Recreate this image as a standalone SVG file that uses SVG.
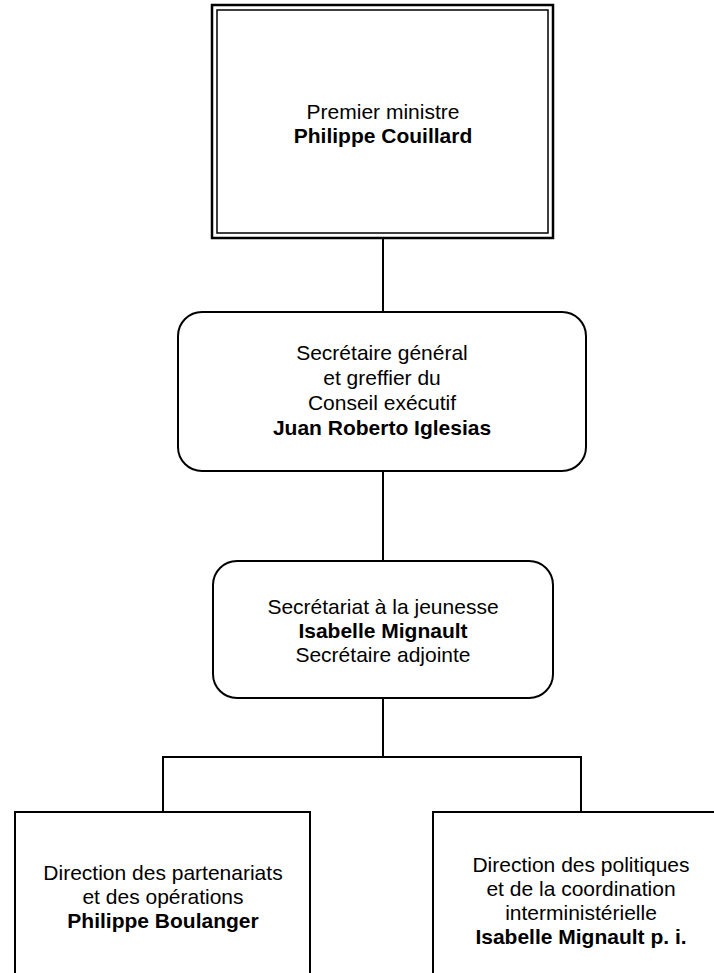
<svg xmlns="http://www.w3.org/2000/svg" width="714" height="973" viewBox="0 0 714 973">
<style>
.t{font-family:"Liberation Sans",Arial,sans-serif;font-size:21px;fill:#000;text-anchor:middle}
.b{font-weight:bold}
.box{fill:#fff;stroke:#000;stroke-width:2}
.conn{fill:none;stroke:#000;stroke-width:2}
</style>
<rect width="714" height="973" fill="#fff"/>
<g id="connectors">
<line class="conn" x1="383" y1="238" x2="383" y2="312"/>
<line class="conn" x1="383" y1="471" x2="383" y2="561"/>
<polyline class="conn" points="383,698 383,757"/>
<polyline class="conn" points="163,812 163,757 581,757 581,812"/>
</g>
<g id="premier-ministre">
<rect x="212" y="5" width="341" height="233" fill="#fff" stroke="#000" stroke-width="2.5"/>
<rect x="217" y="10" width="331" height="223" fill="none" stroke="#000" stroke-width="1.5"/>
<text class="t" x="383" y="119">Premier ministre</text>
<text class="t b" x="383" y="143">Philippe Couillard</text>
</g>
<g id="secretaire-general">
<rect class="box" x="178" y="312" width="408" height="159" rx="24" ry="24"/>
<text class="t" x="382" y="360">Secrétaire général</text>
<text class="t" x="382" y="385">et greffier du</text>
<text class="t" x="382" y="410">Conseil exécutif</text>
<text class="t b" x="382" y="435">Juan Roberto Iglesias</text>
</g>
<g id="secretariat-jeunesse">
<rect class="box" x="213" y="561" width="340" height="137" rx="24" ry="24"/>
<text class="t" x="383" y="614">Secrétariat à la jeunesse</text>
<text class="t b" x="383" y="638">Isabelle Mignault</text>
<text class="t" x="383" y="662">Secrétaire adjointe</text>
</g>
<g id="direction-partenariats">
<rect class="box" x="15" y="812" width="295" height="180" stroke-width="1.5"/>
<text class="t" x="163" y="880">Direction des partenariats</text>
<text class="t" x="163" y="904">et des opérations</text>
<text class="t b" x="163" y="928">Philippe Boulanger</text>
</g>
<g id="direction-politiques">
<rect class="box" x="433" y="812" width="295" height="180" stroke-width="1.5"/>
<text class="t" x="581" y="872">Direction des politiques</text>
<text class="t" x="581" y="896">et de la coordination</text>
<text class="t" x="581" y="920">interministérielle</text>
<text class="t b" x="581" y="944">Isabelle Mignault p. i.</text>
</g>
</svg>
